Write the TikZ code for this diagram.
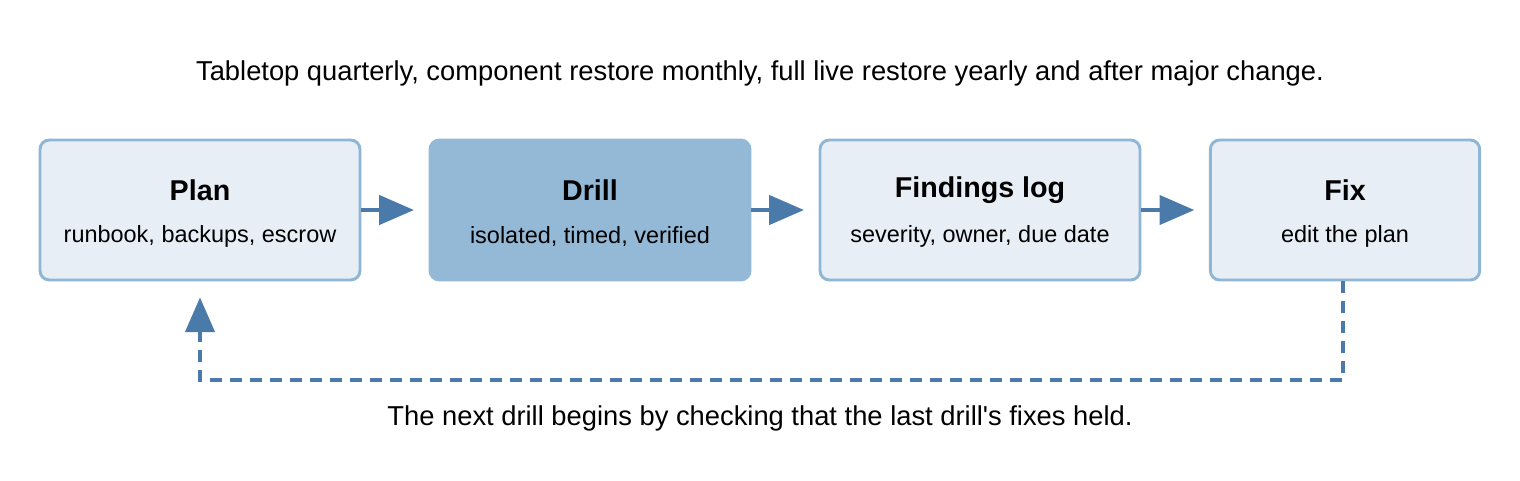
\documentclass[tikz,border=0pt]{standalone}
\usepackage{fontspec}
\setmainfont{Liberation Sans}
\usetikzlibrary{arrows.meta}
\definecolor{bord}{HTML}{8FB6D4}
\definecolor{boxf}{HTML}{E8EEF6}
\definecolor{drillf}{HTML}{93B9D6}
\definecolor{arr}{HTML}{4A7AAA}
\tikzset{
  stage/.style={draw=bord,line width=2.2pt,fill=boxf,rounded corners=7pt,minimum width=240pt,minimum height=105pt,inner sep=0pt},
  hot/.style={stage,fill=drillf,draw=drillf},
  flow/.style={draw=arr,line width=2.4pt,shorten >=11pt,-{Triangle[length=26pt,width=22pt]}},
  back/.style={draw=arr,line width=2.4pt,-{Triangle[length=26pt,width=22pt]},dash pattern=on 9pt off 6pt},
  ttl/.style={font=\fontsize{21.5}{24}\selectfont\bfseries},
  sub/.style={font=\fontsize{17.6}{20}\selectfont},
  captext/.style={font=\fontsize{20.5}{24}\selectfont}
}
\begin{document}
\begin{tikzpicture}[x=0.75pt,y=-0.75pt]
\useasboundingbox (0,0) rectangle (1520,480);
\node[captext] (title) at (760,73) {Tabletop quarterly, component restore monthly, full live restore yearly and after major change.};
\node[stage] (plan) at (200,210) {};
\node[hot] (drill) at (590,210) {};
\node[stage] (find) at (980,210) {};
\node[stage,minimum width=202pt] (fix) at (1345,210) {};
\foreach \n/\t/\s in {plan/Plan/{runbook, backups, escrow},drill/Drill/{isolated, timed, verified},find/Findings log/{severity, owner, due date},fix/Fix/{edit the plan}}{
  \node[ttl] (\n-t) at ([yshift=15pt]\n.center) {\t};
  \node[sub] (\n-s) at ([yshift=-19.5pt]\n.center) {\s};
}
\draw[flow] (plan) -- (drill);
\draw[flow] (drill) -- (find);
\draw[flow] (find) -- (fix);
\coordinate (c1) at (1343,380);
\coordinate (c2) at (200,380);
\draw[back] (fix.south -| c1) -- (c1) -- (c2) -- ([yshift=-12pt]plan.south -| c2);
\node[captext] (note) at (760,418) {The next drill begins by checking that the last drill\textquotesingle s fixes held.};
\end{tikzpicture}
\end{document}
